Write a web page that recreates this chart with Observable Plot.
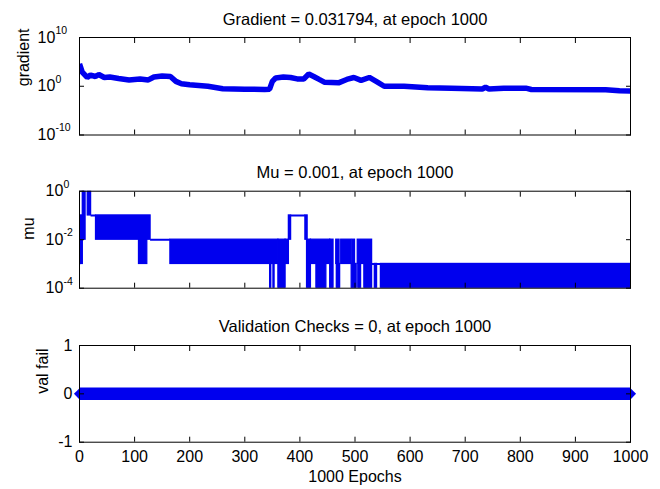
<!DOCTYPE html>
<html><head><meta charset="utf-8">
<script src="https://cdn.jsdelivr.net/npm/d3@7"></script>
<script src="https://cdn.jsdelivr.net/npm/@observablehq/plot@0.6"></script>
<style>
html,body{margin:0;padding:0;background:#fff;}
#chart{position:relative;width:660px;height:489px;background:#fff;}
#chart svg{position:absolute;left:0;}
</style></head><body><div id="chart"></div>
<script>
// ---- data ----
const epochTicks = [0,100,200,300,400,500,600,700,800,900,1000];
const titles = ["Gradient = 0.031794, at epoch 1000", "Mu = 0.001, at epoch 1000", "Validation Checks = 0, at epoch 1000"];
const yLabels = ["gradient", "mu", "val fail"];
const xLabel = "1000 Epochs";

const gradEpoch = [0,5,14,20,29,35,45,55,71,90,110,125,135,150,165,175,185,200,233,260,300,336,345,350,356,370,383,395,407,416,425,435,445,470,485,498,511,526,540,553,589,632,675,731,737,743,770,810,820,955,980,1000];
const gradValue = [40000,794,63,200,100,251,63,79,40,20,32,20,79,126,100,10,3.2,2.0,1.0,0.32,0.25,0.22,0.25,10,50,79,63,32,32,316,100,25,6.3,5.0,25,63,16,63,7.9,1.0,1.0,0.5,0.4,0.28,0.63,0.28,0.4,0.4,0.22,0.2,0.126,0.1];
const gradTicks = [1e-10, 1, 1e10];
const gradTickExp = ["-10", "0", "10"];

// mu: epoch ranges where mu oscillates between two levels
const muStart = [0,2.5,6,15,30,108,165,346,352,361,374,380,410,413,420,430,455,466,467,475,495,494,505,506,517,536,547];
const muEnd   = [2.5,6,11,21,129,123,361,348,354,374,380,384,414,420,455,448,461,472,473,493,500,503,531,511,531,540,1000];
const muLo    = [1e-3,1e-3,1e-2,1e-1,1e-2,1e-3,1e-3,1e-4,1e-4,1e-4,1e-3,1e-2,1e-2,1e-4,1e-3,1e-4,1e-4,1e-3,1e-4,1e-3,1e-3,1e-4,1e-3,1e-4,1e-4,1e-4,1e-4];
const muHi    = [1e-2,1e-1,1,1,1e-1,1e-2,1e-2,1e-3,1e-3,1e-2,1e-2,1e-1,1e-1,1e-2,1e-2,1e-3,1e-2,1e-2,1e-3,1e-2,1e-2,1e-3,1e-2,1e-3,1e-3,1e-3,1e-3];
// mu: epoch ranges where mu stays at one level
const muFlatStart = [21,129,384,531];
const muFlatEnd   = [30,165,410,555];
const muFlatLevel = [1e-1,1e-2,1e-1,1e-3];
const muTicks = [1e-4, 1e-2, 1];
const muTickExp = ["-4", "-2", "0"];

const valEpoch = [0, 1000];
const valFail = [0, 0];
const valTicks = [-1, 0, 1];

// ---- style ----
const BLUE = "#0000ee";
const FONT = "'Liberation Sans', Arial, sans-serif";
const style = {fontFamily: FONT, fontSize: "16px", background: "transparent", overflow: "visible", color: "black"};
const TITLE = 16.5;

function boxAxes(yTicks) {
  return [
    Plot.axisX({anchor: "bottom", ticks: epochTicks, tickSize: -5, tickFormat: () => "", label: null}),
    Plot.axisX({anchor: "top", ticks: epochTicks, tickSize: -5, tickFormat: () => "", label: null}),
    Plot.axisY({anchor: "left", ticks: yTicks, tickSize: -5, tickFormat: () => "", label: null}),
    Plot.axisY({anchor: "right", ticks: yTicks, tickSize: -5, tickFormat: () => "", label: null}),
    Plot.frame({stroke: "black", strokeWidth: 1})
  ];
}
function powLabels(ticks, exps, baseDx, expDx) {
  return [
    Plot.text(ticks, {y: d => d, frameAnchor: "left", text: () => "10", textAnchor: "start", dx: baseDx, fontSize: 16}),
    Plot.text(ticks, {y: d => d, frameAnchor: "left", text: (d, i) => exps[i], textAnchor: "start", dx: expDx, dy: -7, fontSize: 10.5})
  ];
}

const p1 = Plot.plot({
  width: 660, height: 150, marginTop: 37, marginBottom: 15.5, marginLeft: 79, marginRight: 30,
  style,
  x: {domain: [0, 1000]},
  y: {type: "log", domain: [1e-10, 1e10]},
  marks: [
    Plot.line(gradEpoch, {x: d => d, y: (d, i) => gradValue[i], stroke: BLUE, strokeWidth: 5.5, strokeLinejoin: "miter", strokeLinecap: "butt", clip: true}),
    ...boxAxes(gradTicks),
    ...powLabels(gradTicks, gradTickExp, -42, -24),
    Plot.text([yLabels[0]], {frameAnchor: "left", dx: -56, rotate: -90, text: d => d, fontSize: 16}),
    Plot.text([titles[0]], {frameAnchor: "top", lineAnchor: "middle", dy: -17.5, text: d => d, fontSize: TITLE})
  ]
});

const p2 = Plot.plot({
  width: 660, height: 150, marginTop: 40.7, marginBottom: 12.3, marginLeft: 79, marginRight: 30,
  style,
  x: {domain: [0, 1000]},
  y: {type: "log", domain: [1e-4, 1]},
  marks: [
    Plot.rect(muStart.map((d, i) => i), {x1: i => muStart[i], x2: i => muEnd[i], y1: i => muLo[i], y2: i => muHi[i], fill: BLUE, stroke: BLUE, strokeWidth: 1.3, clip: true}),
    Plot.ruleY(muFlatLevel.map((d, i) => i), {y: i => muFlatLevel[i], x1: i => muFlatStart[i], x2: i => muFlatEnd[i], stroke: BLUE, strokeWidth: 2, clip: true}),
    ...boxAxes(muTicks),
    ...powLabels(muTicks, muTickExp, -34, -16),
    Plot.text([yLabels[1]], {frameAnchor: "left", dx: -51, rotate: -90, text: d => d, fontSize: 16}),
    Plot.text([titles[1]], {frameAnchor: "top", lineAnchor: "middle", dy: -18.2, text: d => d, fontSize: TITLE})
  ]
});

const p3 = Plot.plot({
  width: 660, height: 189, marginTop: 45, marginBottom: 47.3, marginLeft: 79, marginRight: 30,
  style,
  x: {domain: [0, 1000]},
  y: {domain: [-1, 1]},
  marks: [
    Plot.line(valEpoch, {x: d => d, y: (d, i) => valFail[i], stroke: BLUE, strokeWidth: 12.5, strokeLinecap: "butt"}),
    Plot.dot(valEpoch, {x: d => d, y: (d, i) => valFail[i], symbol: "diamond2", r: 5, fill: BLUE, stroke: "none"}),
    ...boxAxes(valTicks),
    Plot.axisX({anchor: "bottom", ticks: epochTicks, tickSize: 0, tickPadding: 8, tickFormat: d => String(d), label: null, fontSize: 16}),
    Plot.text(valTicks, {y: d => d, frameAnchor: "left", text: d => String(d), textAnchor: "end", dx: -7, fontSize: 16}),
    Plot.text([yLabels[2]], {frameAnchor: "left", dx: -37, rotate: -90, text: d => d, fontSize: 16}),
    Plot.text([xLabel], {frameAnchor: "bottom", lineAnchor: "middle", dy: 34.5, text: d => d, fontSize: 16}),
    Plot.text([titles[2]], {frameAnchor: "top", lineAnchor: "middle", dy: -18.5, text: d => d, fontSize: TITLE})
  ]
});

const chart = document.getElementById("chart");
p1.style.top = "0px"; p2.style.top = "150px"; p3.style.top = "300px";
chart.append(p1, p2, p3);
</script>
</body></html>
